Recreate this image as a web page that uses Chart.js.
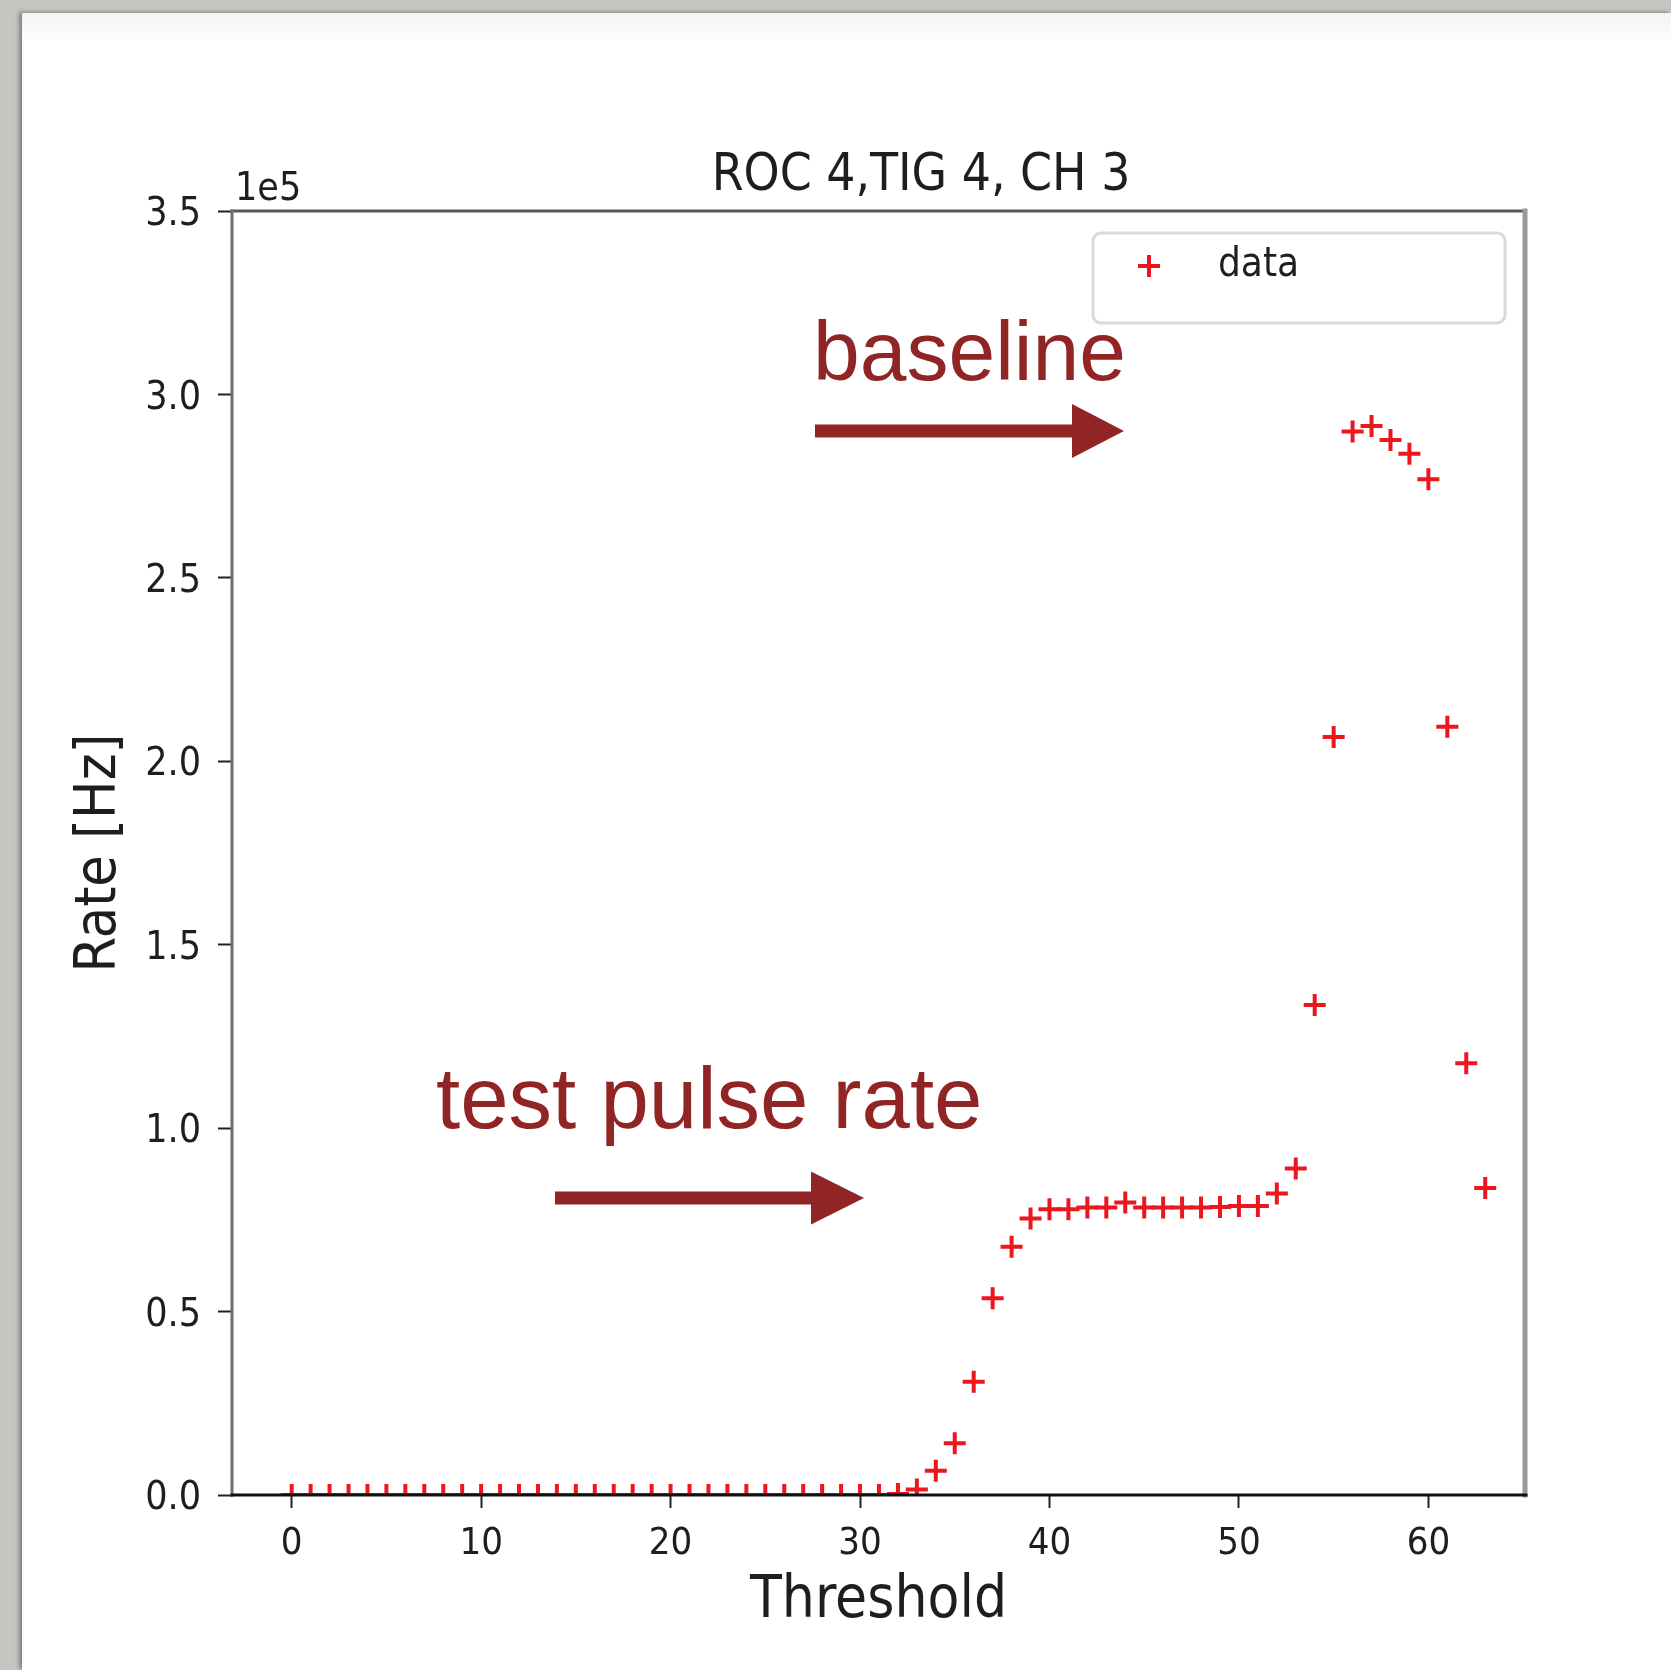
<!DOCTYPE html>
<html>
<head>
<meta charset="utf-8">
<script src="https://cdn.jsdelivr.net/npm/chart.js@4.4.1/dist/chart.umd.min.js"></script>
<style>
  html, body { margin: 0; padding: 0; }
  body { width: 1671px; height: 1670px; background: #c6c6c1; position: relative; overflow: hidden; }
  #sheet {
    position: absolute; left: 22px; top: 13px; right: 0; bottom: 0;
    background: linear-gradient(#f4f4f4 0px, #fbfbfb 26px, #ffffff 28px);
    box-shadow: -3px -1px 4px rgba(0,0,0,0.35);
  }
  #chart { position: absolute; left: 0; top: 0; }
</style>
</head>
<body>
<div id="sheet"></div>
<canvas id="chart" width="1671" height="1670"></canvas>
<script>
// threshold scan, ROC 4 / TIG 4 / CH 3
const thresholds = [
  0, 1, 2, 3, 4, 5, 6, 7, 8, 9, 10, 11, 12, 13, 14, 15,
  16, 17, 18, 19, 20, 21, 22, 23, 24, 25, 26, 27, 28, 29, 30, 31,
  32, 33, 34, 35, 36, 37, 38, 39, 40, 41, 42, 43, 44, 45, 46, 47,
  48, 49, 50, 51, 52, 53, 54, 55, 56, 57, 58, 59, 60, 61, 62, 63
];
const rates = [
  0, 0, 0, 0, 0, 0, 0, 0, 0, 0, 0, 0, 0, 0, 0, 0,
  0, 0, 0, 0, 0, 0, 0, 0, 0, 0, 0, 0, 0, 0, 0, 0,
  300, 1500, 6600, 14100, 30900, 53600, 67700, 75400, 77900, 77900, 78400, 78400, 79700, 78400, 78400, 78400,
  78400, 78500, 78800, 78800, 82200, 89000, 133600, 206600, 289900, 291400, 287600, 283800, 276900, 209400, 117700, 83700
];
const xTickValues = [0, 10, 20, 30, 40, 50, 60];
const yTickValues = [0, 50000, 100000, 150000, 200000, 250000, 300000, 350000];

const chartTitle = 'ROC 4,TIG 4, CH 3';
const seriesLabel = 'data';
const yOffsetText = '1e5';
const notes = ['baseline', 'test pulse rate'];

const mplFont = "'DejaVu Sans Condensed', 'DejaVu Sans', sans-serif";
const noteFont = "'Liberation Sans', Arial, sans-serif";
const markerColor = 'rgb(236, 22, 30)';
const noteColor = '#912424';

function drawCross(ctx, x, y, r) {
  ctx.beginPath();
  ctx.moveTo(x - r, y);
  ctx.lineTo(x + r, y);
  ctx.moveTo(x, y - r);
  ctx.lineTo(x, y + r);
  ctx.stroke();
}

function drawArrow(ctx, x0, x1, tip, y, shaft, head) {
  ctx.fillRect(x0, y - shaft / 2, x1 - x0, shaft);
  ctx.beginPath();
  ctx.moveTo(x1, y - head / 2);
  ctx.lineTo(tip, y);
  ctx.lineTo(x1, y + head / 2);
  ctx.closePath();
  ctx.fill();
}

// spines on top of the markers, like matplotlib
const framePlugin = {
  id: 'frame',
  afterDatasetsDraw(chart) {
    const ctx = chart.ctx;
    const a = chart.chartArea;
    ctx.save();
    ctx.lineCap = 'square';
    ctx.lineWidth = 3;
    ctx.strokeStyle = '#5a5a5a';
    ctx.beginPath(); ctx.moveTo(a.left, a.top); ctx.lineTo(a.right, a.top); ctx.stroke();
    ctx.strokeStyle = '#6e6e6e';
    ctx.beginPath(); ctx.moveTo(a.left, a.top); ctx.lineTo(a.left, a.bottom); ctx.stroke();
    ctx.lineWidth = 5;
    ctx.strokeStyle = '#9a9a9a';
    ctx.beginPath(); ctx.moveTo(a.right, a.top); ctx.lineTo(a.right, a.bottom); ctx.stroke();
    ctx.lineWidth = 3;
    ctx.strokeStyle = '#111111';
    ctx.beginPath(); ctx.moveTo(a.left, a.bottom); ctx.lineTo(a.right + 1, a.bottom); ctx.stroke();
    ctx.restore();
  },
  afterDraw(chart) {
    const ctx = chart.ctx;
    const a = chart.chartArea;
    ctx.save();

    // title (sits a bit right of centre in the original)
    ctx.fillStyle = '#1e1e1e';
    ctx.font = '51px ' + mplFont;
    ctx.textAlign = 'center';
    ctx.textBaseline = 'alphabetic';
    ctx.fillText(chartTitle, 921, a.top - 21);

    // offset text of the y axis
    ctx.font = '39px ' + mplFont;
    ctx.textAlign = 'left';
    ctx.fillText(yOffsetText, a.left + 3, a.top - 11);

    // legend box
    const lx = 1093, ly = 233, lw = 412, lh = 90;
    ctx.fillStyle = '#ffffff';
    ctx.strokeStyle = '#d9d9d9';
    ctx.lineWidth = 3;
    ctx.beginPath();
    ctx.roundRect(lx, ly, lw, lh, 8);
    ctx.fill();
    ctx.stroke();
    ctx.strokeStyle = markerColor;
    ctx.lineWidth = 4;
    drawCross(ctx, lx + 56, ly + 33, 11);
    ctx.fillStyle = '#1e1e1e';
    ctx.font = '40px ' + mplFont;
    ctx.textBaseline = 'middle';
    ctx.fillText(seriesLabel, lx + 125, ly + 33);

    // keynote style annotations
    ctx.fillStyle = noteColor;
    ctx.textBaseline = 'alphabetic';
    ctx.font = '84px ' + noteFont;
    ctx.fillText(notes[0], 813, 380);
    ctx.font = '87px ' + noteFont;
    ctx.fillText(notes[1], 436, 1128);
    drawArrow(ctx, 815, 1072, 1124, 431, 13, 54);
    drawArrow(ctx, 555, 811, 864, 1198, 13, 53);

    ctx.restore();
  }
};

window.onload = function () {
  const ctx = document.getElementById('chart').getContext('2d');
  const points = thresholds.map((t, i) => ({ x: t, y: rates[i] }));

  new Chart(ctx, {
    type: 'scatter',
    plugins: [framePlugin],
    data: {
      datasets: [{
        label: seriesLabel,
        data: points,
        pointStyle: 'cross',
        pointRadius: 11,
        pointHoverRadius: 11,
        borderWidth: 4,
        borderColor: markerColor,
        backgroundColor: markerColor,
        clip: 0
      }]
    },
    options: {
      responsive: false,
      animation: false,
      devicePixelRatio: 1,
      layout: { padding: { left: 0, top: 211, right: 146, bottom: 0 } },
      plugins: {
        legend: { display: false },
        title: { display: false },
        tooltip: { enabled: false }
      },
      scales: {
        x: {
          type: 'linear',
          min: -3.15,
          max: 65.1,
          afterBuildTicks: (scale) => { scale.ticks = xTickValues.map(v => ({ value: v })); },
          afterFit: (scale) => { scale.height = 175; },
          border: { display: false },
          grid: { drawOnChartArea: false, drawTicks: true, tickLength: 13, tickColor: '#222', tickWidth: 2 },
          ticks: {
            padding: 13,
            color: '#1e1e1e',
            font: { family: mplFont, size: 38 },
            maxRotation: 0,
            callback: (v) => String(v)
          },
          title: {
            display: true,
            text: 'Threshold',
            color: '#1e1e1e',
            font: { family: mplFont, size: 58 },
            padding: { top: 0, bottom: 33 }
          }
        },
        y: {
          type: 'linear',
          min: 0,
          max: 350000,
          afterBuildTicks: (scale) => { scale.ticks = yTickValues.map(v => ({ value: v })); },
          afterFit: (scale) => { scale.width = 232; },
          border: { display: false },
          grid: { drawOnChartArea: false, drawTicks: true, tickLength: 14, tickColor: '#222', tickWidth: 2 },
          ticks: {
            padding: 17,
            labelOffset: 4,
            color: '#1e1e1e',
            font: { family: mplFont, size: 39 },
            callback: (v) => (v / 1e5).toFixed(1)
          },
          title: {
            display: true,
            text: 'Rate [Hz]',
            color: '#1e1e1e',
            font: { family: mplFont, size: 57 },
            padding: { top: 66, bottom: 0 }
          }
        }
      }
    }
  });
};
</script>
</body>
</html>
